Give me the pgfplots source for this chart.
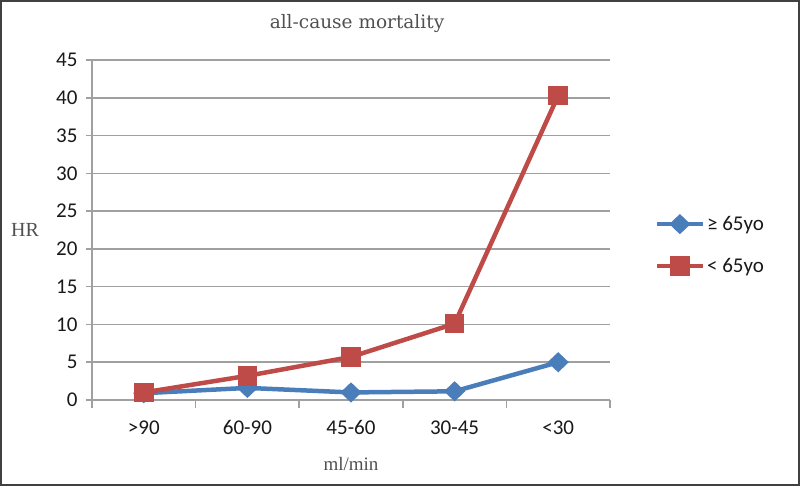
\documentclass[border=0pt]{standalone}
\usepackage{pgfplots}
\pgfplotsset{compat=1.18}
\usepackage{fontspec}
\setmainfont{Carlito}
\newfontfamily\titlefont{DejaVu Serif}
\newfontfamily\labfont{Liberation Serif}
\definecolor{cblue}{HTML}{4A7EBB}
\definecolor{cred}{HTML}{BE4B48}
\definecolor{cgrid}{HTML}{A0A0A0}
\definecolor{ctext}{HTML}{505050}
\begin{document}
\begin{tikzpicture}
\begin{axis}[
  at={(0pt,0pt)}, anchor=south west,
  scale only axis, width=518pt, height=340pt,
  xmin=-0.5, xmax=4.5, ymin=0, ymax=45,
  xtick={0,1,2,3,4},
  xticklabels={>90,60-90,45-60,30-45,<30},
  minor xtick={-0.5,0.5,1.5,2.5,3.5,4.5},
  ytick={0,5,...,45},
  axis x line=bottom, axis y line=left,
  axis line style={-, cgrid, line width=1.5pt},
  ymajorgrids, grid style={cgrid, line width=1.5pt},
  major x tick style={draw=none},
  minor x tick style={cgrid, line width=1.5pt},
  minor tick length=8pt,
  y tick style={cgrid, line width=1.5pt},
  major tick length=6pt,
  tick align=outside,
  every tick label/.append style={font=\fontsize{21}{24}\selectfont, text=black!90},
  /pgf/number format/assume math mode=true,
  xticklabel style={yshift=-11pt},
  yticklabel style={xshift=-5pt},
  title={\titlefont\fontsize{18.5}{22}\selectfont all-cause mortality},
  title style={at={(axis description cs:0.5,1)}, anchor=center, yshift=30pt, xshift=6pt, text=ctext},
  xlabel={\labfont\fontsize{19}{22}\selectfont ml/min},
  xlabel style={at={(axis description cs:0.5,0)}, anchor=center, yshift=-64pt, text=ctext},
  ylabel={\labfont\fontsize{20}{22}\selectfont HR},
  ylabel style={rotate=-90, at={(axis description cs:0,0.5)}, anchor=center, xshift=-67pt, text=ctext},
  legend style={at={(axis description cs:1.08,0.456)}, anchor=west, draw=none, fill=none,
    font=\fontsize{21}{24}\selectfont, row sep=22pt, text=black!90},
  legend cell align=left,
  legend image code/.code={
    \draw[#1] (0pt,0pt) -- (46pt,0pt);
    \draw[#1, mark repeat=1] plot coordinates {(23pt,0pt)};
  },
]
\addplot[cblue, line width=4.5pt, mark=diamond*, mark size=7pt, mark options={xscale=1.4, solid}]
  coordinates {(0,0.9) (1,1.6) (2,1.0) (3,1.15) (4,5.0)};
\addlegendentry{≥ 65yo}
\addplot[cred, line width=4.5pt, mark=square*, mark size=7.5pt, mark options={solid}]
  coordinates {(0,1.0) (1,3.2) (2,5.7) (3,10.1) (4,40.3)};
\addlegendentry{< 65yo}
\end{axis}
\draw[black!75, line width=2pt] (-91pt,-85pt) rectangle (707pt,399pt);
\end{tikzpicture}
\end{document}
